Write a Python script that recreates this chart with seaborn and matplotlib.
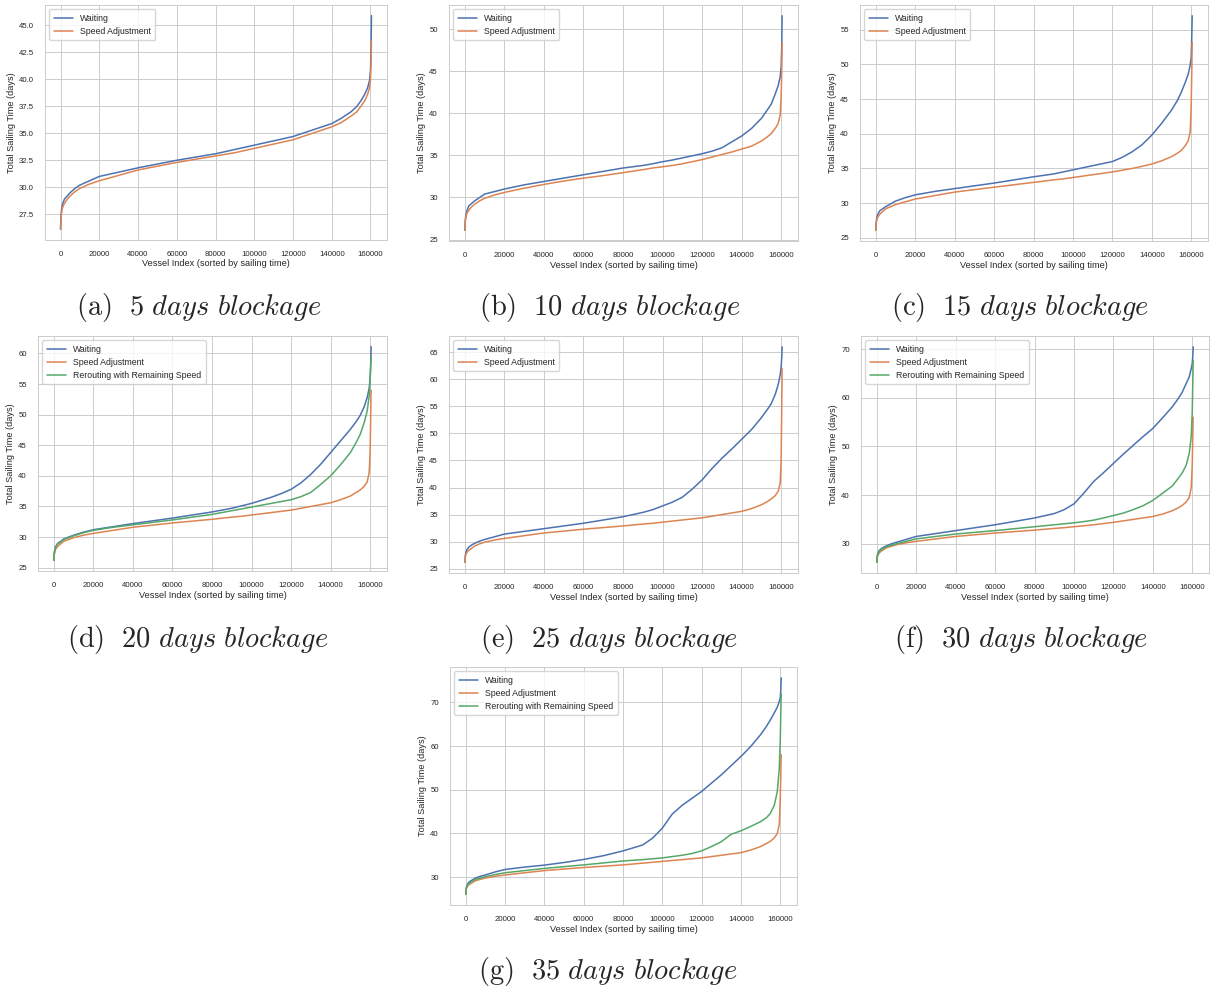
import numpy as np
import pandas as pd
import matplotlib
matplotlib.use("Agg")
import matplotlib.pyplot as plt
from matplotlib.ticker import MultipleLocator
import seaborn as sns

# ---------------- data ----------------
vessel_idx = [0, 200, 500, 1000, 2000, 3500, 5000, 7500, 10000, 15000,
              20000, 30000, 40000, 50000, 60000, 70000, 80000, 90000, 95000, 100000,
              105000, 110000, 115000, 120000, 125000, 130000, 135000, 140000, 145000, 150000,
              153000, 155000, 157000, 158500, 159500, 160000, 160300, 160500]

wait_5 = [26.1, 27.3, 27.9, 28.4, 28.9, 29.2, 29.5, 29.9, 30.2, 30.6,
          31.0, 31.4, 31.8, 32.15, 32.5, 32.8, 33.1, 33.5, 33.7, 33.9,
          34.1, 34.3, 34.5, 34.7, 35.0, 35.3, 35.6, 35.9, 36.4, 37.0,
          37.5, 38.0, 38.6, 39.2, 39.9, 40.8, 43.0, 45.9]
speed_5 = [26.1, 27.1, 27.6, 28.1, 28.5, 28.9, 29.2, 29.6, 29.9, 30.3,
           30.6, 31.1, 31.6, 31.95, 32.3, 32.6, 32.9, 33.2, 33.4, 33.6,
           33.8, 34.0, 34.2, 34.4, 34.7, 35.0, 35.3, 35.6, 36.0, 36.6,
           37.0, 37.5, 38.0, 38.6, 39.2, 40.0, 41.5, 43.6]

wait_10 = [26.1, 27.3, 27.9, 28.4, 29.0, 29.3, 29.6, 30.0, 30.4, 30.7,
           31.0, 31.5, 31.9, 32.3, 32.7, 33.1, 33.5, 33.8, 34.0, 34.25,
           34.45, 34.7, 34.95, 35.2, 35.5, 35.9, 36.6, 37.3, 38.2, 39.4,
           40.4, 41.1, 42.3, 43.3, 44.3, 45.5, 48.0, 51.6]
speed_10 = [26.1, 27.1, 27.6, 28.1, 28.5, 28.9, 29.2, 29.6, 29.9, 30.3,
            30.6, 31.1, 31.55, 31.95, 32.3, 32.6, 32.95, 33.3, 33.5, 33.65,
            33.8, 34.0, 34.25, 34.5, 34.8, 35.1, 35.4, 35.75, 36.1, 36.7,
            37.2, 37.6, 38.2, 38.8, 39.8, 42.0, 45.0, 48.4]

wait_15 = [26.1, 27.3, 27.9, 28.4, 28.9, 29.2, 29.5, 29.9, 30.3, 30.8,
           31.2, 31.7, 32.1, 32.5, 32.9, 33.35, 33.8, 34.2, 34.5, 34.8,
           35.1, 35.4, 35.7, 36.0, 36.6, 37.4, 38.4, 39.8, 41.5, 43.4,
           44.8, 46.0, 47.4, 48.6, 49.9, 51.0, 54.0, 57.0]
speed_15 = [26.1, 27.1, 27.6, 28.0, 28.4, 28.8, 29.2, 29.5, 29.8, 30.2,
            30.6, 31.1, 31.6, 31.95, 32.3, 32.65, 33.0, 33.35, 33.5, 33.7,
            33.9, 34.1, 34.3, 34.5, 34.75, 35.0, 35.3, 35.65, 36.1, 36.7,
            37.2, 37.6, 38.3, 39.0, 40.3, 44.0, 49.0, 53.2]

wait_20 = [26.2, 27.4, 28.0, 28.5, 29.0, 29.3, 29.7, 30.0, 30.3, 30.8,
           31.2, 31.7, 32.2, 32.65, 33.1, 33.6, 34.1, 34.7, 35.1, 35.5,
           36.0, 36.5, 37.1, 37.8, 38.85, 40.25, 41.9, 43.8, 45.7, 47.6,
           48.9, 49.9, 51.3, 52.8, 54.3, 56.0, 58.5, 61.1]
speed_20 = [26.2, 27.1, 27.6, 28.1, 28.5, 28.9, 29.3, 29.6, 29.9, 30.3,
            30.6, 31.1, 31.6, 31.95, 32.3, 32.6, 32.9, 33.25, 33.4, 33.6,
            33.8, 34.0, 34.2, 34.4, 34.7, 35.0, 35.3, 35.6, 36.1, 36.7,
            37.3, 37.7, 38.3, 39.0, 40.5, 44.0, 50.0, 54.0]
reroute_20 = [26.2, 27.3, 27.9, 28.4, 28.9, 29.2, 29.6, 29.9, 30.2, 30.7,
              31.1, 31.6, 32.0, 32.4, 32.8, 33.25, 33.7, 34.3, 34.6, 34.9,
              35.2, 35.5, 35.8, 36.1, 36.6, 37.3, 38.6, 40.0, 41.8, 43.8,
              45.5, 46.8, 48.7, 50.6, 53.0, 55.7, 58.0, 59.5]

wait_25 = [26.2, 27.4, 28.0, 28.5, 29.0, 29.4, 29.7, 30.1, 30.4, 30.9,
           31.4, 31.9, 32.4, 32.9, 33.4, 34.0, 34.6, 35.4, 35.9, 36.6,
           37.3, 38.2, 39.7, 41.4, 43.5, 45.4, 47.1, 48.9, 50.7, 52.9,
           54.4, 55.5, 57.2, 59.0, 60.8, 62.3, 64.0, 66.0]
speed_25 = [26.2, 27.1, 27.6, 28.0, 28.4, 28.8, 29.2, 29.6, 29.9, 30.3,
            30.6, 31.1, 31.6, 31.95, 32.3, 32.6, 32.9, 33.25, 33.4, 33.6,
            33.8, 34.0, 34.2, 34.4, 34.7, 35.0, 35.3, 35.6, 36.1, 36.8,
            37.4, 37.9, 38.5, 39.3, 40.8, 45.0, 55.0, 62.0]

wait_30 = [26.2, 27.4, 28.0, 28.5, 28.9, 29.3, 29.6, 30.0, 30.3, 30.9,
           31.5, 32.1, 32.7, 33.3, 33.9, 34.6, 35.3, 36.2, 37.0, 38.2,
           40.4, 42.8, 44.6, 46.5, 48.4, 50.2, 52.0, 53.7, 55.9, 58.2,
           59.9, 61.2, 63.0, 64.3, 66.0, 67.0, 68.5, 70.5]
speed_30 = [26.2, 27.1, 27.6, 28.0, 28.4, 28.8, 29.2, 29.5, 29.8, 30.2,
            30.5, 31.0, 31.5, 31.85, 32.2, 32.5, 32.8, 33.15, 33.3, 33.5,
            33.7, 33.9, 34.15, 34.4, 34.7, 35.0, 35.3, 35.6, 36.1, 36.8,
            37.4, 37.9, 38.6, 39.5, 41.5, 46.0, 52.0, 56.0]
reroute_30 = [26.2, 27.3, 27.8, 28.3, 28.7, 29.1, 29.4, 29.7, 30.0, 30.5,
              31.0, 31.5, 32.0, 32.35, 32.7, 33.1, 33.5, 33.9, 34.1, 34.3,
              34.55, 34.85, 35.3, 35.8, 36.3, 37.0, 37.8, 38.9, 40.4, 41.9,
              43.5, 44.6, 46.2, 48.6, 52.0, 56.8, 63.0, 67.7]

wait_35 = [26.1, 27.4, 28.0, 28.5, 29.0, 29.4, 29.8, 30.2, 30.5, 31.2,
           31.75, 32.3, 32.75, 33.35, 34.05, 34.9, 36.0, 37.35, 38.9, 41.2,
           44.4, 46.4, 48.0, 49.6, 51.5, 53.4, 55.5, 57.6, 59.9, 62.6,
           64.5, 66.0, 67.6, 68.9, 70.2, 71.0, 73.0, 75.6]
speed_35 = [26.1, 27.1, 27.6, 28.0, 28.4, 28.8, 29.2, 29.5, 29.8, 30.2,
            30.5, 31.0, 31.5, 31.85, 32.2, 32.5, 32.8, 33.2, 33.4, 33.6,
            33.8, 34.0, 34.2, 34.4, 34.7, 35.0, 35.3, 35.6, 36.2, 37.0,
            37.7, 38.2, 39.0, 40.0, 42.0, 48.0, 54.0, 58.0]
reroute_35 = [26.1, 27.3, 27.8, 28.3, 28.7, 29.1, 29.5, 29.8, 30.1, 30.6,
              31.0, 31.5, 32.0, 32.4, 32.8, 33.25, 33.7, 34.0, 34.2, 34.4,
              34.7, 35.0, 35.4, 36.0, 37.0, 38.1, 39.8, 40.6, 41.6, 42.7,
              43.6, 44.6, 46.5, 49.6, 54.9, 61.0, 68.0, 72.0]

captions = ["(a)", "(b)", "(c)", "(d)", "(e)", "(f)", "(g)"]
blockage_days = [5, 10, 15, 20, 25, 30, 35]
series_names = ["Waiting", "Speed Adjustment", "Rerouting with Remaining Speed"]
x_label = "Vessel Index (sorted by sailing time)"
y_label = "Total Sailing Time (days)"

panels = [
    [wait_5, speed_5],
    [wait_10, speed_10],
    [wait_15, speed_15],
    [wait_20, speed_20, reroute_20],
    [wait_25, speed_25],
    [wait_30, speed_30, reroute_30],
    [wait_35, speed_35, reroute_35],
]

# ---------------- style ----------------
sns.set_theme(style="whitegrid", palette="deep")
plt.rcParams["font.family"] = ["Liberation Sans", "DejaVu Sans"]
plt.rcParams["mathtext.fontset"] = "cm"
colors = sns.color_palette("deep")

W, H = 1210, 990
fig = plt.figure(figsize=(W / 100, H / 100), dpi=100)

# axes frames in pixels: left, top, right, bottom
frames = [
    (45, 5, 387, 240),
    (449, 5, 798, 241),
    (860, 5, 1208, 241),
    (38, 336, 387, 571),
    (449, 336, 798, 573),
    (861, 336, 1209, 573),
    (450, 667, 797, 905),
]
caption_pos = [(199, 307), (610, 307), (1020, 307),
               (198, 640), (609, 640), (1021, 640), (608, 972)]
ystep = [2.5, 5, 5, 5, 5, 10, 10]

for i, (series, fr) in enumerate(zip(panels, frames)):
    l, t, r, b = fr
    ax = fig.add_axes([l / W, 1 - b / H, (r - l) / W, (b - t) / H])
    for j, ys in enumerate(series):
        df = pd.DataFrame({"idx": vessel_idx, "t": ys})
        sns.lineplot(data=df, x="idx", y="t", ax=ax, color=colors[j],
                     label=series_names[j], linewidth=1.1, estimator=None)
    ax.set_xlabel(x_label, fontsize=6.6, labelpad=1)
    ax.set_ylabel(y_label, fontsize=6.6, labelpad=2)
    ax.tick_params(labelsize=5.6, pad=2)
    ax.xaxis.set_major_locator(MultipleLocator(20000))
    ax.yaxis.set_major_locator(MultipleLocator(ystep[i]))
    ax.grid(True, linewidth=0.7)
    for s in ax.spines.values():
        s.set_linewidth(0.7)
    ax.legend(loc="upper left", fontsize=6.3, frameon=True, borderpad=0.5,
              handlelength=2.2, labelspacing=0.45)
    cx, cy = caption_pos[i]
    fig.text(cx / W, 1 - cy / H,
             r"$\mathrm{%s}\ \ \mathit{%d\ days\ blockage}$" % (captions[i], blockage_days[i]),
             fontsize=20.5, ha="center", va="center")

fig.savefig("out.png", dpi=100, facecolor="white")
